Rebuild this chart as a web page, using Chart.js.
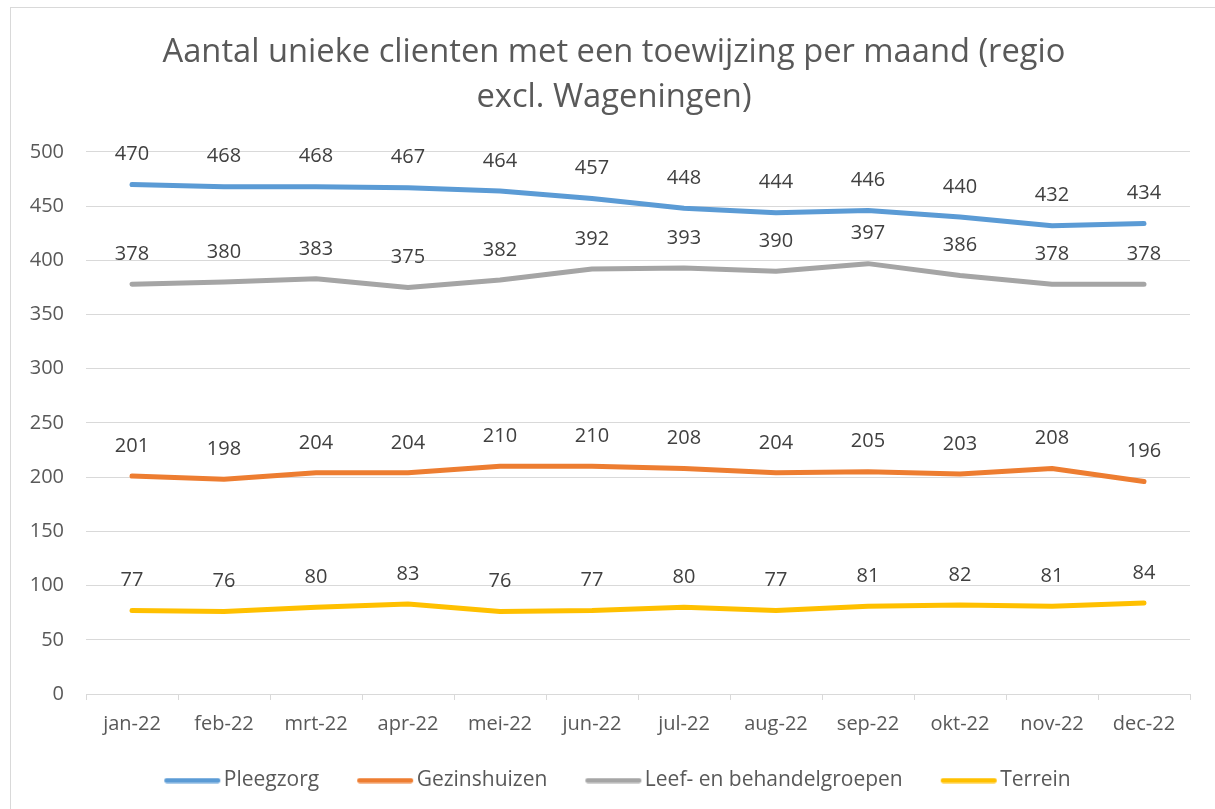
<!DOCTYPE html>
<html>
<head>
<meta charset="utf-8">
<script src="https://cdn.jsdelivr.net/npm/chart.js@4/dist/chart.umd.min.js"></script>
<style>
html,body{margin:0;padding:0;background:#fff;}
#wrap{width:1215px;height:809px;position:relative;}
</style>
</head>
<body>
<div id="wrap"><canvas id="c" width="1215" height="809"></canvas></div>
<script>
const categories = ['jan-22','feb-22','mrt-22','apr-22','mei-22','jun-22','jul-22','aug-22','sep-22','okt-22','nov-22','dec-22'];
const pleegzorg = [470,468,468,467,464,457,448,444,446,440,432,434];
const gezinshuizen = [201,198,204,204,210,210,208,204,205,203,208,196];
const leefBehandel = [378,380,383,375,382,392,393,390,397,386,378,378];
const terrein = [77,76,80,83,76,77,80,77,81,82,81,84];
const seriesNames = ['Pleegzorg','Gezinshuizen','Leef- en behandelgroepen','Terrein'];
const yTicks = [0,50,100,150,200,250,300,350,400,450,500];
const titleLines = ['Aantal unieke clienten met een toewijzing per maand (regio','excl. Wageningen)'];

const FONT = '"Open Sans"';
const colors = ['#5B9BD5','#ED7D31','#A5A5A5','#FFC000'];

// legend sample: line image, offset so it sits close to the label text
function legendLine(color){
  const cv = document.createElement('canvas');
  cv.width = 68; cv.height = 6;
  const g = cv.getContext('2d');
  g.strokeStyle = color; g.lineWidth = 5; g.lineCap = 'round';
  g.beginPath(); g.moveTo(13.5,3); g.lineTo(64.5,3); g.stroke();
  return cv;
}

const frame = {
  id:'frame',
  beforeDraw(chart){
    const ctx = chart.ctx;
    ctx.save();
    ctx.fillStyle='#fff';
    ctx.fillRect(0,0,chart.width,chart.height);
    ctx.strokeStyle='#d9d9d9';
    ctx.lineWidth=1;
    ctx.strokeRect(10.5,7.5,chart.width+20,chart.height+20);
    ctx.restore();
  }
};

// centre title and legend on the whole frame rather than on the padded area
const centreBlocks = {
  id:'centreBlocks',
  afterLayout(chart){
    if (chart.titleBlock){ chart.titleBlock.left += 14; chart.titleBlock.right += 14; }
    if (chart.legend){ chart.legend.left += 16; chart.legend.right += 16; chart.legend.top -= 1; chart.legend.bottom -= 1; }
  }
};

const dataLabels = {
  id:'dataLabels',
  afterDatasetsDraw(chart){
    const ctx = chart.ctx;
    ctx.save();
    ctx.font = '20px ' + FONT;
    ctx.fillStyle = '#404040';
    ctx.textAlign = 'center';
    ctx.textBaseline = 'middle';
    chart.data.datasets.forEach((ds,i)=>{
      const meta = chart.getDatasetMeta(i);
      meta.data.forEach((pt,j)=>{
        ctx.fillText(String(ds.data[j]), pt.x, pt.y - 30);
      });
    });
    ctx.restore();
  }
};

const seriesData = [pleegzorg, gezinshuizen, leefBehandel, terrein];

new Chart(document.getElementById('c'), {
  type:'line',
  data:{
    labels: categories,
    datasets: seriesNames.map((n,i)=>({
      label:n,
      data: seriesData[i],
      borderColor: colors[i],
      backgroundColor: colors[i],
      borderWidth: 5,
      borderCapStyle:'round',
      borderJoinStyle:'round',
      pointRadius:0,
      pointHoverRadius:0,
      pointStyle: legendLine(colors[i]),
      tension:0,
      fill:false
    }))
  },
  options:{
    responsive:false,
    animation:false,
    layout:{padding:{left:10,right:25,top:8,bottom:7}},
    plugins:{
      tooltip:{enabled:false},
      title:{
        display:true,
        text: titleLines,
        color:'#595959',
        font:{family:FONT, size:32.7, weight:'400', lineHeight:1.376},
        padding:{top:22,bottom:32}
      },
      legend:{
        position:'bottom',
        labels:{
          usePointStyle:true,
          pointStyleWidth:52,
          boxHeight:5,
          color:'#595959',
          font:{family:FONT,size:21},
          padding:35
        }
      }
    },
    scales:{
      x:{
        offset:true,
        grid:{display:true, drawOnChartArea:false, offset:true, color:'#d9d9d9', tickLength:6, tickColor:'#d9d9d9'},
        border:{display:true, color:'#d9d9d9', width:1},
        ticks:{color:'#595959', font:{family:FONT,size:20}, padding:12, maxRotation:0, autoSkip:false},
        afterFit(s){ s.height = 42; }
      },
      y:{
        min:0, max:500,
        afterBuildTicks(s){ s.ticks = yTicks.map(v=>({value:v})); },
        grid:{color:'#d9d9d9', drawTicks:false, lineWidth:1},
        border:{display:false},
        ticks:{color:'#595959', font:{family:FONT,size:20}, padding:22},
        afterFit(s){ s.width = 76; }
      }
    }
  },
  plugins:[frame, centreBlocks, dataLabels]
});
</script>
</body>
</html>
